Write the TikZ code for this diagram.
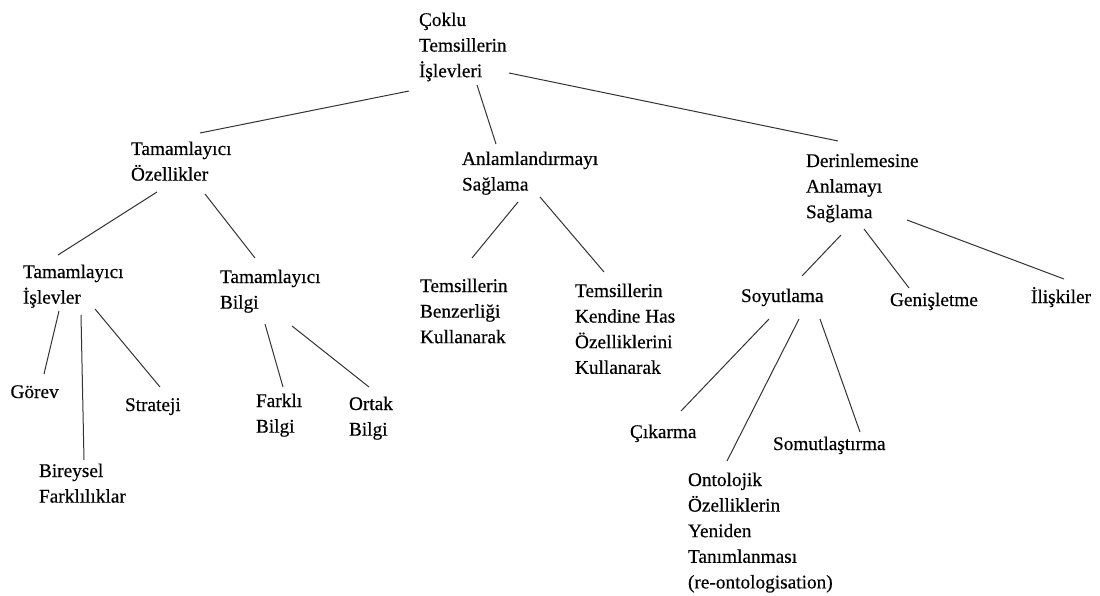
\documentclass[tikz,border=0pt]{standalone}
\usepackage{fontspec}
\newfontfamily\tnr{Liberation Serif}[FakeBold=0.4]
\usetikzlibrary{calc}
\newcommand{\mlines}[1]{\begin{tabular}[t]{@{}l@{}}#1\end{tabular}}
\begin{document}
\begin{tikzpicture}[x=1pt,y=-1pt,
  lbl/.style={anchor=base west,inner sep=0pt,outer sep=0pt,text=black,
    font=\tnr\fontsize{19.3}{25.6}\selectfont},
  conn/.style={draw=black!80,line width=1pt}]
\useasboundingbox (0,0) rectangle (1100,596);
\fill[white] (0,0) rectangle (1100,596);
% nodes
\node[lbl] (root) at (419,26) {\mlines{Çoklu\\Temsillerin\\İşlevleri}};
\node[lbl] (to) at (131,155) {\mlines{Tamamlayıcı\\Özellikler}};
\node[lbl] (anl) at (462,165) {\mlines{Anlamlandırmayı\\Sağlama}};
\node[lbl] (der) at (806,167) {\mlines{Derinlemesine\\Anlamayı\\Sağlama}};
\node[lbl] (ti) at (23,278) {\mlines{Tamamlayıcı\\İşlevler}};
\node[lbl] (tb) at (220,283) {\mlines{Tamamlayıcı\\Bilgi}};
\node[lbl] (tbk) at (420,292) {\mlines{Temsillerin\\Benzerliği\\Kullanarak}};
\node[lbl] (tkh) at (575,297) {\mlines{Temsillerin\\Kendine Has\\Özelliklerini\\Kullanarak}};
\node[lbl] (soy) at (741,302) {Soyutlama};
\node[lbl] (gen) at (890,306) {Genişletme};
\node[lbl] (ili) at (1031,303) {İlişkiler};
\node[lbl] (gor) at (10.5,398) {Görev};
\node[lbl] (str) at (125,411) {Strateji};
\node[lbl] (bir) at (39,477) {\mlines{Bireysel\\Farklılıklar}};
\node[lbl] (far) at (256,407) {\mlines{Farklı\\Bilgi}};
\node[lbl] (ort) at (349,410) {\mlines{Ortak\\Bilgi}};
\node[lbl] (cik) at (630,438) {Çıkarma};
\node[lbl] (som) at (773,450) {Somutlaştırma};
\node[lbl] (ont) at (688,486) {\mlines{Ontolojik\\Özelliklerin\\Yeniden\\Tanımlanması\\(re-ontologisation)}};
% connectors (offsets from base west anchors)
\draw[conn] ($(root.base west)+(-10,65)$) -- ($(to.base west)+(69,-22)$);
\draw[conn] ($(root.base west)+(58,59)$) -- ($(anl.base west)+(34,-21)$);
\draw[conn] ($(root.base west)+(90,47)$) -- ($(der.base west)+(32,-26)$);
\draw[conn] ($(to.base west)+(26,37)$) -- ($(ti.base west)+(35,-23)$);
\draw[conn] ($(to.base west)+(74,39)$) -- ($(tb.base west)+(35,-25)$);
\draw[conn] ($(anl.base west)+(56,37)$) -- ($(tbk.base west)+(52,-34)$);
\draw[conn] ($(anl.base west)+(78,32)$) -- ($(tkh.base west)+(29,-25)$);
\draw[conn] ($(der.base west)+(35,68)$) -- ($(soy.base west)+(61,-26)$);
\draw[conn] ($(der.base west)+(58,62)$) -- ($(gen.base west)+(19,-18)$);
\draw[conn] ($(der.base west)+(101,53)$) -- ($(ili.base west)+(33,-24)$);
\draw[conn] ($(ti.base west)+(36,33)$) -- ($(gor.base west)+(33.5,-24)$);
\draw[conn] ($(ti.base west)+(58,37)$) -- ($(bir.base west)+(45,-17)$);
\draw[conn] ($(ti.base west)+(72,31)$) -- ($(str.base west)+(35,-24)$);
\draw[conn] ($(tb.base west)+(45,41)$) -- ($(far.base west)+(27,-20)$);
\draw[conn] ($(tb.base west)+(72,43)$) -- ($(ort.base west)+(20,-23)$);
\draw[conn] ($(soy.base west)+(28,17)$) -- ($(cik.base west)+(51,-27)$);
\draw[conn] ($(soy.base west)+(58,17)$) -- ($(ont.base west)+(39,-25)$);
\draw[conn] ($(soy.base west)+(79,17)$) -- ($(som.base west)+(87,-18)$);
\end{tikzpicture}
\end{document}
